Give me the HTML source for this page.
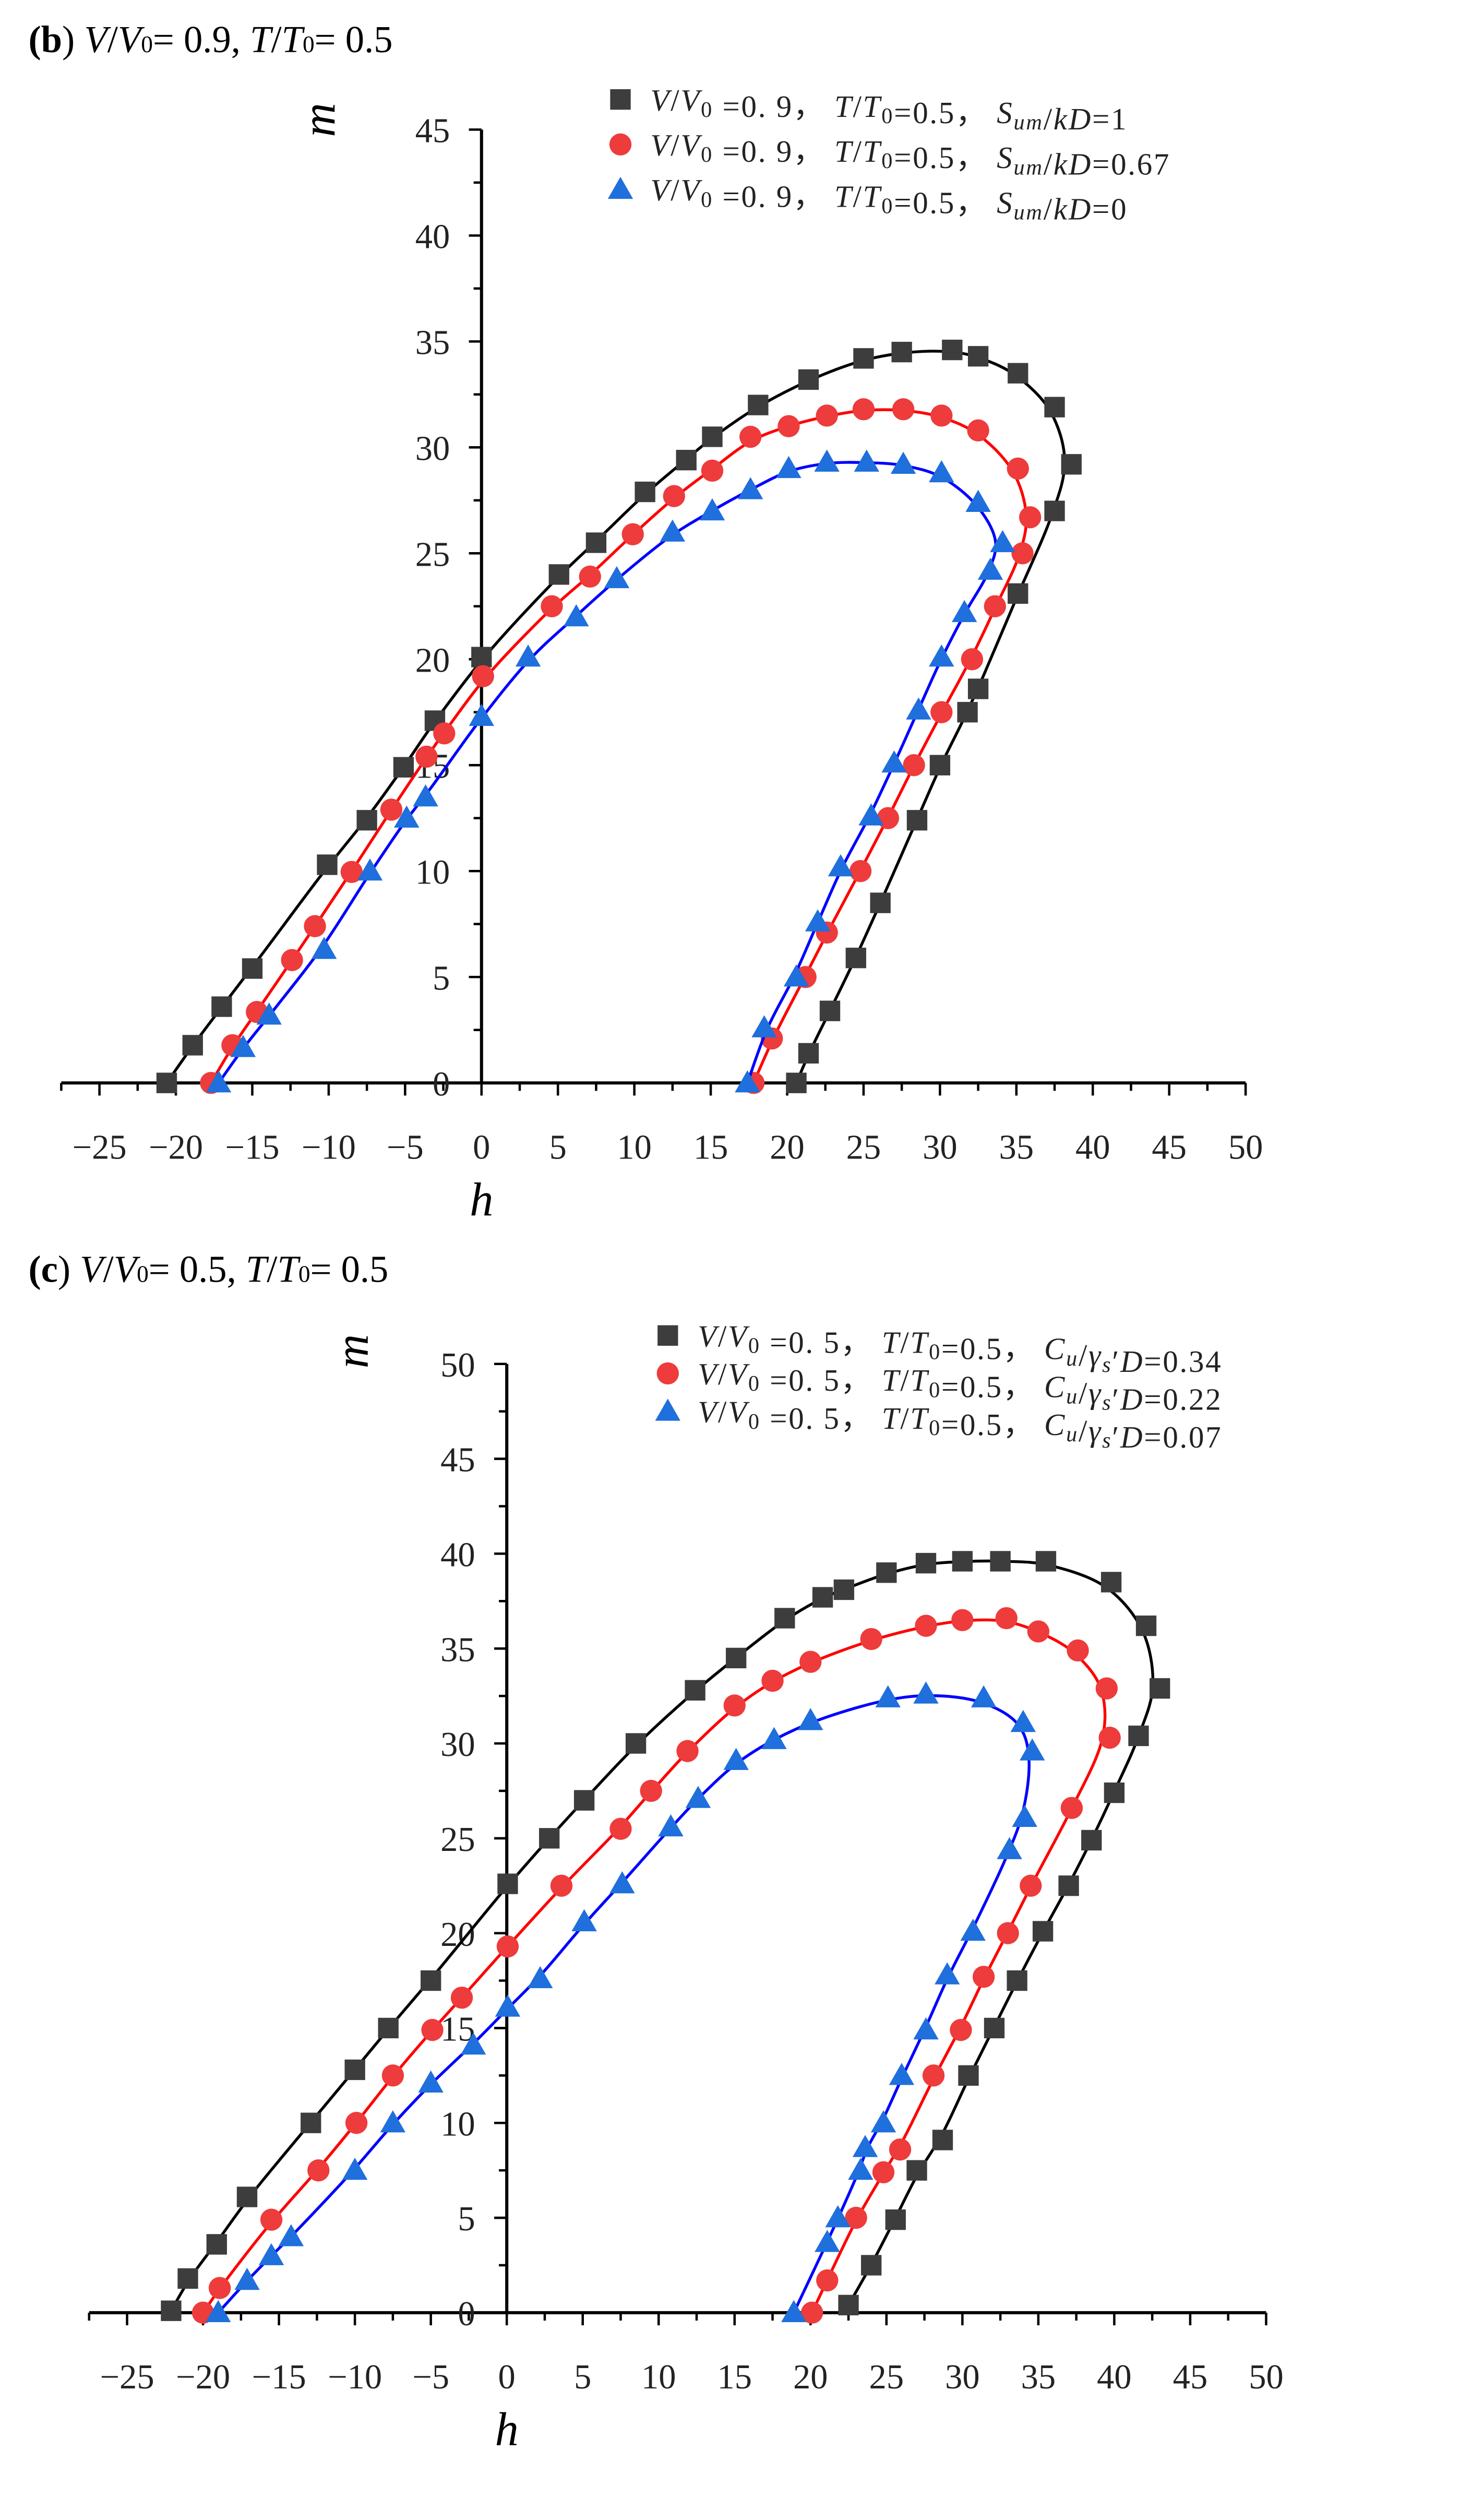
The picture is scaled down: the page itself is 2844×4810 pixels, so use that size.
<!DOCTYPE html>
<html><head><meta charset="utf-8"><style>
html,body{margin:0;padding:0;background:#fff;}
svg{display:block;}
text{font-family:"Liberation Serif",serif;}
</style></head><body>
<svg id="chart" width="2844" height="4810" viewBox="0 0 940 1590" preserveAspectRatio="none" xmlns="http://www.w3.org/2000/svg">
<text x="18" y="33" font-size="24"><tspan font-weight="bold">(</tspan><tspan font-weight="bold">b</tspan>) <tspan font-style="italic">V</tspan>/<tspan font-style="italic">V</tspan><tspan font-size="15">0</tspan>= 0.9, <tspan font-style="italic">T</tspan>/<tspan font-style="italic">T</tspan><tspan font-size="15">0</tspan>= 0.5</text>
<text x="18" y="812" font-size="24"><tspan font-weight="bold">(c</tspan>) <tspan font-style="italic">V</tspan>/<tspan font-style="italic">V</tspan><tspan font-size="15">0</tspan>= 0.5, <tspan font-style="italic">T</tspan>/<tspan font-style="italic">T</tspan><tspan font-size="15">0</tspan>= 0.5</text>
<g id="pb"></g>
<g id="pc"></g>
</svg>
<script>
// ---- Panel (b) data ----
const bBlackH=[-20.6,-18.9,-17.0,-15.0,-10.1,-7.5,-5.1,-3.05,0,5.07,7.5,10.7,13.4,15.1,18.1,21.4,25.0,27.5,30.8,32.5,35.1,37.5,38.6,37.5,35.1,32.5,31.8,30.0,28.5,26.1,24.5,22.8,21.4,20.6];
const bBlackM=[0,1.78,3.6,5.4,10.3,12.4,14.9,17.1,20.1,24.0,25.5,27.9,29.4,30.5,32.0,33.2,34.2,34.5,34.6,34.3,33.5,31.9,29.2,27.0,23.1,18.6,17.5,15.0,12.4,8.5,5.9,3.4,1.4,0];
const bRedH=[-17.7,-16.3,-14.7,-12.4,-10.9,-8.5,-5.9,-3.6,-2.44,0.1,4.6,7.1,9.9,12.6,15.1,17.6,20.1,22.6,25.0,27.6,30.1,32.5,35.1,35.9,35.4,33.6,32.1,30.1,28.3,26.6,24.8,22.6,21.2,19.0,17.8];
const bRedM=[0,1.78,3.35,5.8,7.4,9.96,12.9,15.4,16.5,19.2,22.5,23.9,25.9,27.7,28.9,30.5,31.0,31.5,31.8,31.8,31.5,30.8,29.0,26.7,25.0,22.5,20.0,17.5,15.0,12.5,10.0,7.1,5.0,2.1,0];
const bBlueH=[-17.2,-15.6,-13.9,-10.3,-7.3,-4.9,-3.66,0,3.05,6.2,8.85,12.5,15.1,17.6,20.1,22.6,25.2,27.6,30.1,32.5,34.1,33.3,31.6,30.1,28.6,27.0,25.5,23.5,22.0,20.6,18.5,17.4];
const bBlueM=[0,1.67,3.2,6.3,10.0,12.5,13.5,17.3,20.1,22.0,23.8,26.0,27.0,28.0,29.0,29.3,29.3,29.2,28.8,27.4,25.5,24.2,22.2,20.1,17.6,15.1,12.6,10.2,7.6,5.0,2.6,0];
// ---- Panel (c) data ----
const cBlackH=[-22.1,-21.0,-19.1,-17.1,-12.9,-10.0,-7.8,-5.0,0.06,2.8,5.1,8.5,12.4,15.1,18.3,20.8,22.2,25.0,27.6,30.0,32.5,35.5,39.8,42.1,43.0,41.6,40.0,38.5,37.0,35.3,33.6,32.1,30.4,28.7,27.0,25.6,24.0,22.5];
const cBlackM=[0.1,1.8,3.6,6.1,10.0,12.8,15.0,17.5,22.6,25.0,27.0,30.0,32.8,34.5,36.6,37.7,38.1,39.0,39.5,39.6,39.6,39.6,38.5,36.2,32.9,30.4,27.4,24.9,22.5,20.1,17.5,15.0,12.5,9.1,7.5,4.9,2.5,0.4];
const cRedH=[-20.0,-18.9,-15.5,-12.4,-9.9,-7.5,-4.9,-2.96,0.06,3.6,7.5,9.5,11.9,15.0,17.5,20.0,24.0,27.6,30.0,32.9,35.0,37.6,39.5,39.7,37.2,34.5,33.0,31.4,29.9,28.1,25.9,24.8,23.0,21.1,20.1];
const cRedM=[0,1.3,4.9,7.5,10.0,12.5,14.9,16.6,19.3,22.5,25.5,27.5,29.6,32.0,33.3,34.3,35.5,36.2,36.5,36.6,35.9,34.9,32.9,30.3,26.6,22.5,20.0,17.7,14.9,12.5,8.6,7.4,5.0,1.7,0];
const cBlueH=[-19.0,-17.1,-15.5,-14.2,-10.0,-7.5,-5.0,-2.2,0.06,2.2,5.1,7.6,10.8,12.6,15.1,17.6,20.0,25.1,27.6,31.4,34.0,34.6,34.1,33.1,30.7,29.0,27.6,26.0,24.8,23.6,23.3,21.8,21.1,18.9];
const cBlueM=[0,1.7,3.0,4.0,7.5,10.0,12.1,14.1,16.1,17.6,20.6,22.6,25.6,27.1,29.1,30.2,31.2,32.4,32.6,32.4,31.1,29.6,26.1,24.4,20.1,17.8,14.9,12.5,10.0,8.7,7.5,5.0,3.7,0];
const xTicks=[-25,-20,-15,-10,-5,0,5,10,15,20,25,30,35,40,45,50];
const bYTicks=[0,5,10,15,20,25,30,35,40,45];
const cYTicks=[0,5,10,15,20,25,30,35,40,45,50];

const NS="http://www.w3.org/2000/svg";
function mk(parent,tag,attrs){const e=document.createElementNS(NS,tag);for(const k in attrs)e.setAttribute(k,attrs[k]);parent.appendChild(e);return e;}
function smooth(q){
  return q.map((v,i)=>{if(i===0||i===q.length-1)return v;return [0.2*q[i-1][0]+0.6*v[0]+0.2*q[i+1][0],0.2*q[i-1][1]+0.6*v[1]+0.2*q[i+1][1]];});
}

function drawPanel(g,cfg){
  const X=v=>cfg.x0+v*cfg.ux, Y=v=>cfg.y0-v*cfg.uy;
  const xa=mk(g,'line',{x1:X(-27.5),x2:X(50),y1:cfg.y0,y2:cfg.y0,stroke:'#000','stroke-width':2});
  
  
  for(let v=-27.5;v<=50.01;v+=2.5){
    const major=Math.abs(v/5-Math.round(v/5))<1e-6;
    mk(g,'line',{x1:X(v),x2:X(v),y1:cfg.y0,y2:cfg.y0+(major?8:5),stroke:'#000','stroke-width':1.5});
  }
  xTicks.forEach(v=>{
    const t=mk(g,'text',{x:X(v),y:cfg.y0+48,'font-size':22,'text-anchor':'middle',fill:'#222'});
    t.textContent=(v<0?'\u2212'+(-v):''+v);
    
    
  });
  const top=cfg.yTicks[cfg.yTicks.length-1];
  const ya=mk(g,'line',{x1:cfg.x0,x2:cfg.x0,y1:cfg.y0,y2:Y(top),stroke:'#000','stroke-width':2});
  
  
  for(let v=0;v<=top+0.01;v+=2.5){
    const major=Math.abs(v/5-Math.round(v/5))<1e-6;
    mk(g,'line',{x1:cfg.x0-(major?8:5),x2:cfg.x0,y1:Y(v),y2:Y(v),stroke:'#000','stroke-width':1.5});
  }
  cfg.yTicks.forEach(v=>{
    const t=mk(g,'text',{x:cfg.x0-20,y:Y(v)+8,'font-size':22,'text-anchor':'end',fill:'#222'});
    t.textContent=''+v;
    
    
  });
  const xl=mk(g,'text',{x:cfg.x0,y:cfg.y0+84,'font-size':30,'font-style':'italic','text-anchor':'middle'});
  xl.textContent='h';
  
  
  const yl=mk(g,'text',{x:0,y:0,'font-size':30,'font-style':'italic','text-anchor':'middle',transform:`translate(${cfg.ylx},${cfg.yly}) rotate(-90)`});
  yl.textContent='m';
  
  
  cfg.series.forEach(s=>{
    const raw=s.h.map((h,i)=>[X(h),Y(s.m[i])]);
    const pts=smooth(raw);
    let d='M'+pts[0][0]+','+pts[0][1];
    for(let i=0;i<pts.length-1;i++){
      const p0=pts[Math.max(0,i-1)],p1=pts[i],p2=pts[i+1],p3=pts[Math.min(pts.length-1,i+2)];
      const c1=[p1[0]+(p2[0]-p0[0])/6,p1[1]+(p2[1]-p0[1])/6];
      const c2=[p2[0]-(p3[0]-p1[0])/6,p2[1]-(p3[1]-p1[1])/6];
      d+=`C${c1[0]},${c1[1]} ${c2[0]},${c2[1]} ${p2[0]},${p2[1]}`;
    }
    const ln=mk(g,'path',{d:d,fill:'none',stroke:s.line,'stroke-width':1.8});
    
    
    raw.forEach(p=>{
      const m=marker(g,s.shape,p[0],p[1],s.fill);
      
      
    });
  });
  cfg.series.forEach((s,i)=>{
    const ly=cfg.legY+i*cfg.legDy;
    const m=marker(g,s.shape,cfg.legX,ly,s.fill);
    
    
    const t=mk(g,'text',{x:cfg.legX+19,y:ly+7,'font-size':19.5,'letter-spacing':0.9,fill:'#222'});
    t.innerHTML=s.label;
    
    
  });
}
function marker(g,shape,x,y,fill){
  if(shape==='sq')return mk(g,'rect',{x:x-6.5,y:y-6.5,width:13,height:13,fill:fill});
  if(shape==='ci')return mk(g,'circle',{cx:x,cy:y,r:7,fill:fill});
  return mk(g,'polygon',{points:`${x},${y-8} ${x+8},${y+6} ${x-8},${y+6}`,fill:fill});
}
const I=s=>`<tspan font-style="italic">${s}</tspan>`;
const sub=s=>`<tspan font-size="14" dy="4">${s}</tspan><tspan dy="-4"></tspan>`;
const pre=v=>`${I('V')}/${I('V')}${sub('0')} =${v}，  ${I('T')}/${I('T')}${sub('0')}=0.5，  `;
const sLab=v=>pre('0. 9')+`${I('S')}${sub(I('um'))}/${I('kD')}=${v}`;
const cLab=v=>pre('0. 5')+`${I('C')}${sub(I('u'))}/${I('γ')}${sub(I('s'))}′${I('D')}=${v}`;
const BK='#3d3d3d',RD='#ee3b3b',BL='#1f6fdc';
drawPanel(document.getElementById('pb'),{x0:305,ux:9.68,y0:686,uy:13.42,yTicks:bYTicks,ylx:212,yly:76,legX:393,legY:63,legDy:28.5,
  series:[{name:'s1',h:bBlackH,m:bBlackM,shape:'sq',fill:BK,line:'#000',label:sLab('1')},
          {name:'s067',h:bRedH,m:bRedM,shape:'ci',fill:RD,line:'#ff0000',label:sLab('0.67')},
          {name:'s0',h:bBlueH,m:bBlueM,shape:'tr',fill:BL,line:'#0000ff',label:sLab('0')}]});
drawPanel(document.getElementById('pc'),{x0:321,ux:9.62,y0:1465,uy:12.02,yTicks:cYTicks,ylx:233,yly:856,legX:423,legY:846,legDy:24,
  series:[{name:'c034',h:cBlackH,m:cBlackM,shape:'sq',fill:BK,line:'#000',label:cLab('0.34')},
          {name:'c022',h:cRedH,m:cRedM,shape:'ci',fill:RD,line:'#ff0000',label:cLab('0.22')},
          {name:'c007',h:cBlueH,m:cBlueM,shape:'tr',fill:BL,line:'#0000ff',label:cLab('0.07')}]});
</script>
</body></html>
